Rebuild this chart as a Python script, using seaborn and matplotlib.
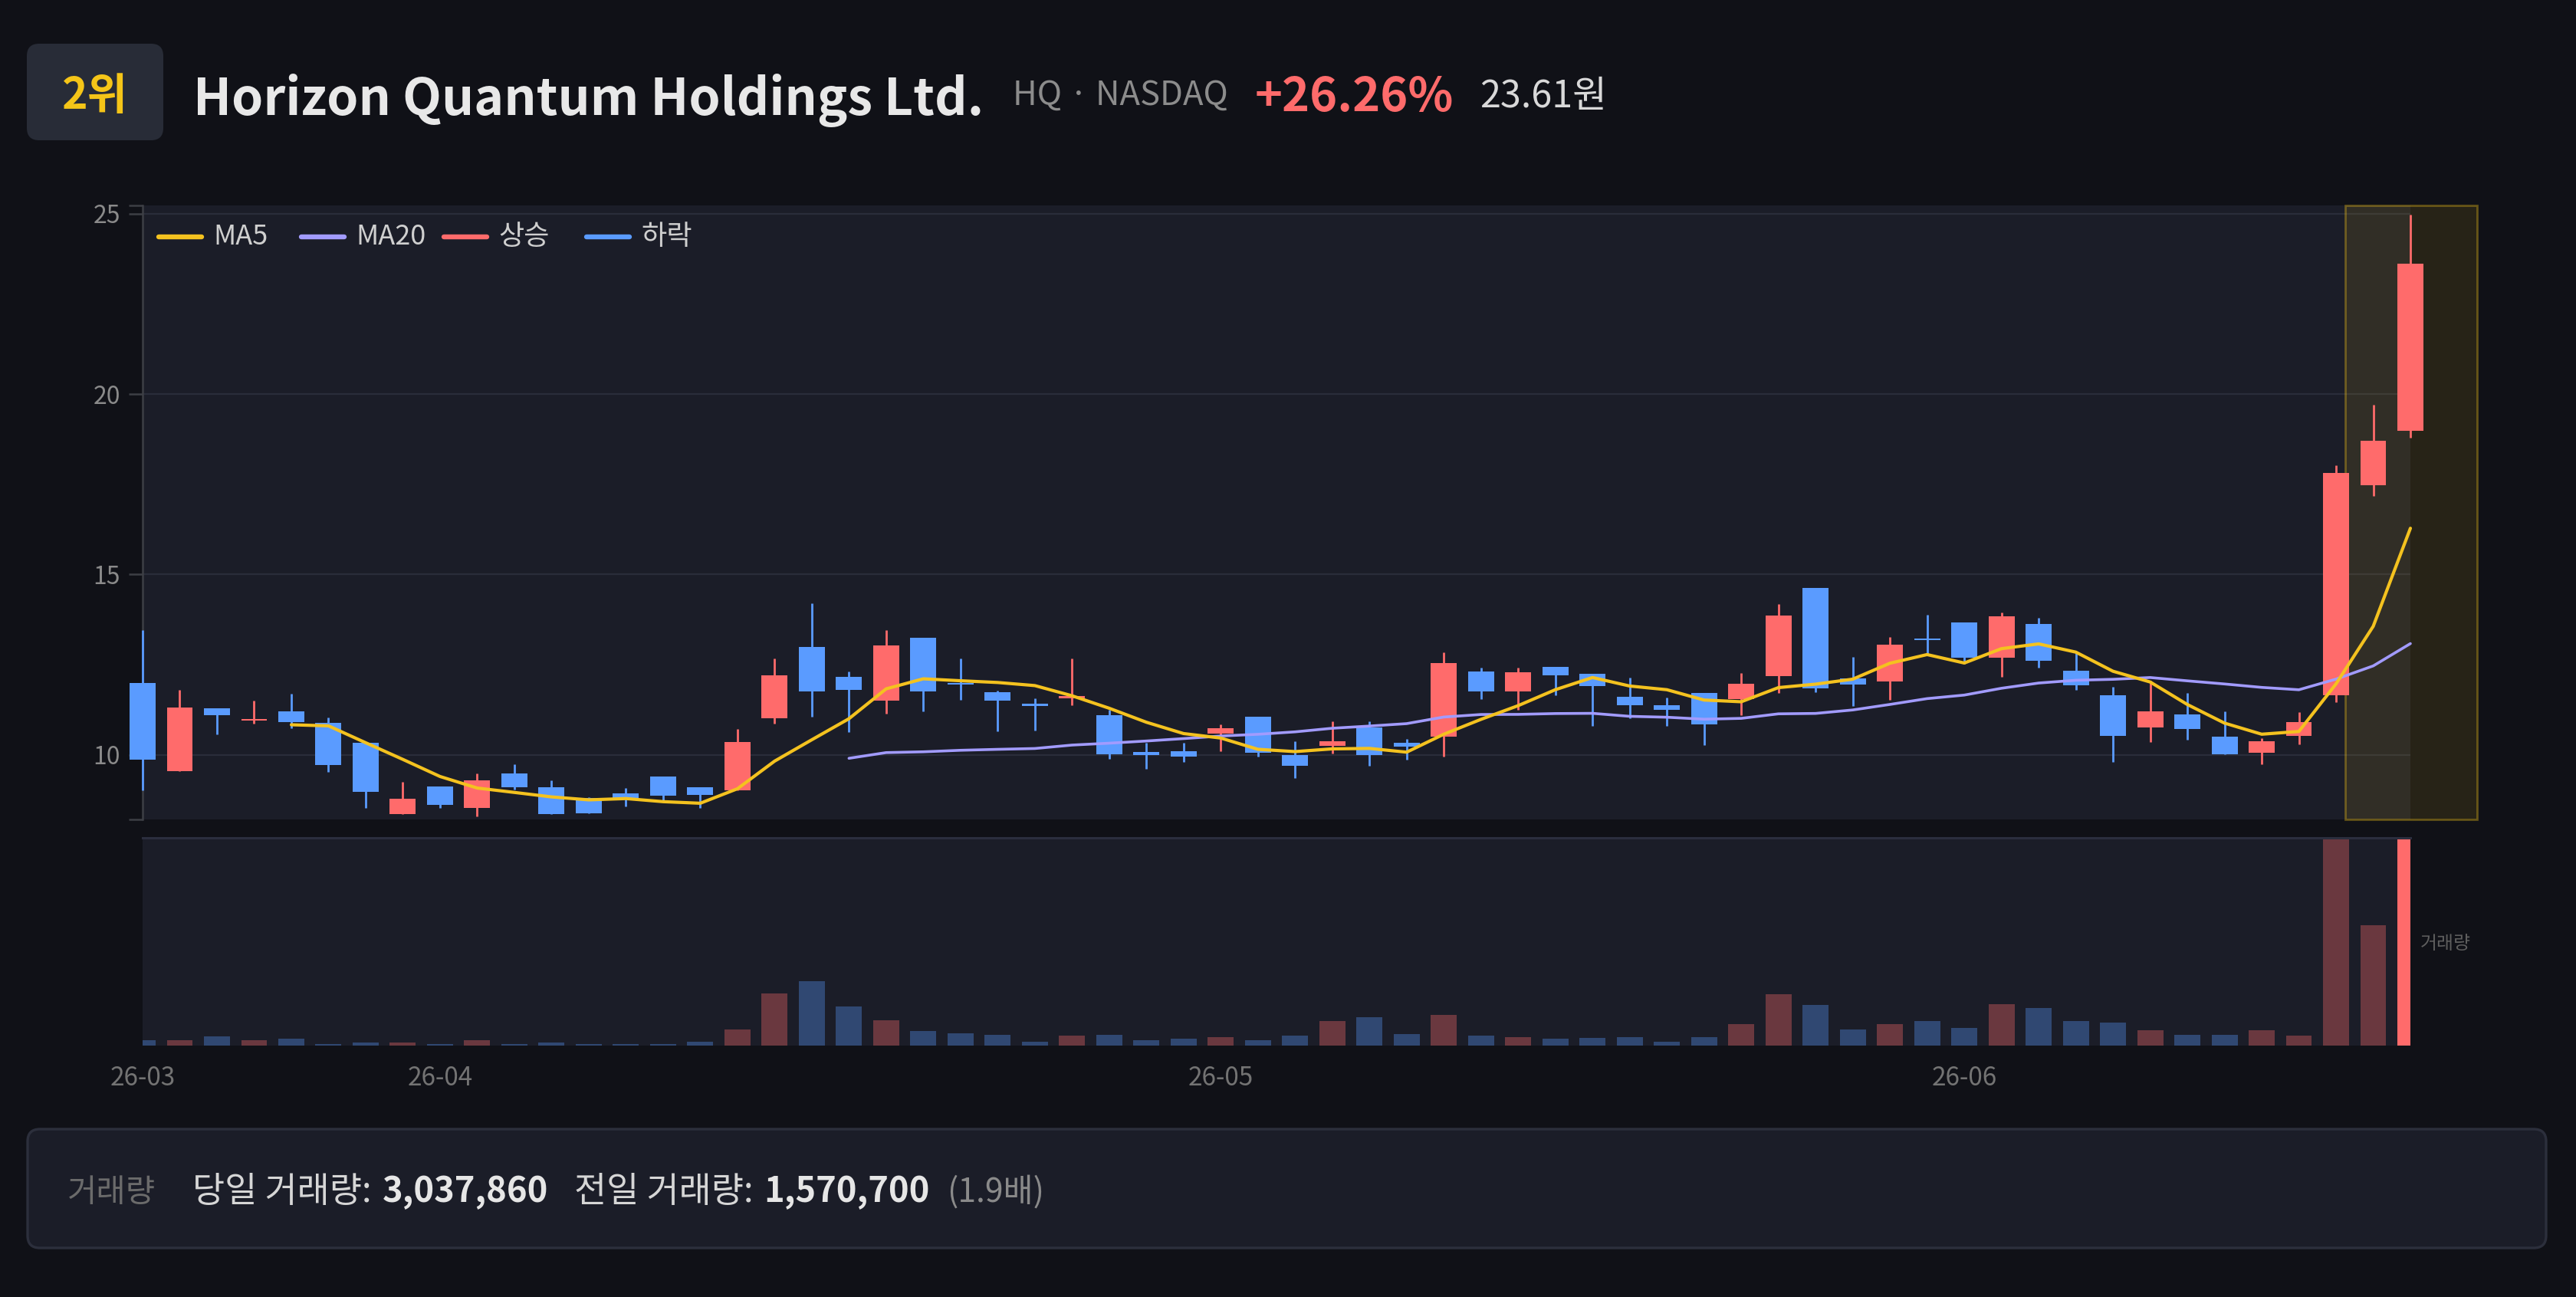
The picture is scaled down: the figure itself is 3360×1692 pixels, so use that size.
import numpy as np
import pandas as pd
import matplotlib
matplotlib.use('Agg')
import matplotlib.pyplot as plt
import seaborn as sns
from matplotlib.lines import Line2D
from matplotlib.patches import FancyBboxPatch
from matplotlib.transforms import IdentityTransform

# ---------------- data ----------------
start_date = '2026-03-20'
market_holidays = ['2026-04-03', '2026-05-25']

opens = [11.98, 9.55, 11.29, 10.94, 11.20, 10.89, 10.33, 8.35, 9.13, 8.52,
         9.49, 9.09, 8.80, 8.92, 9.40, 9.11, 9.02, 11.02, 12.98, 12.15,
         11.51, 13.25, 11.99, 11.73, 11.40, 11.57, 11.09, 10.07, 10.09, 10.58,
         11.06, 9.99, 10.24, 10.76, 10.33, 10.51, 12.30, 11.76, 12.43, 12.24,
         11.60, 11.38, 11.72, 11.55, 12.18, 14.62, 12.11, 12.04, 13.21, 13.66,
         12.69, 13.63, 12.33, 11.65, 10.76, 11.12, 10.50, 10.05, 10.52, 11.64,
         17.48, 18.99]
highs = [13.46, 11.80, 11.29, 11.51, 11.69, 11.03, 10.33, 9.25, 9.13, 9.49,
         9.74, 9.30, 8.82, 9.08, 9.40, 9.11, 10.71, 12.67, 14.20, 12.31,
         13.46, 13.25, 12.67, 11.78, 11.57, 12.67, 11.24, 10.34, 10.34, 10.85,
         11.06, 10.37, 10.93, 10.93, 10.43, 12.83, 12.42, 12.42, 12.43, 12.24,
         12.13, 11.58, 11.72, 12.27, 14.18, 14.62, 12.72, 13.27, 13.88, 13.66,
         13.94, 13.80, 12.81, 11.89, 12.06, 11.72, 11.21, 10.46, 11.18, 18.03,
         19.70, 24.98]
lows = [9.02, 9.55, 10.56, 10.87, 10.74, 9.52, 8.52, 8.35, 8.52, 8.29,
        9.04, 8.35, 8.38, 8.56, 8.74, 8.52, 9.02, 10.87, 11.06, 10.64,
        11.15, 11.20, 11.53, 10.66, 10.67, 11.37, 9.89, 9.62, 9.81, 10.09,
        9.94, 9.36, 10.04, 9.70, 9.87, 9.94, 11.55, 11.25, 11.66, 10.80,
        11.02, 10.80, 10.26, 11.10, 11.71, 11.74, 11.35, 11.52, 12.79, 12.53,
        12.17, 12.42, 11.79, 9.81, 10.36, 10.41, 10.02, 9.73, 10.28, 11.45,
        17.17, 18.80]
closes = [9.87, 11.31, 11.10, 10.98, 10.90, 9.72, 8.97, 8.79, 8.61, 9.30,
          9.11, 8.35, 8.38, 8.79, 8.87, 8.89, 10.36, 12.21, 11.75, 11.79,
          13.03, 11.75, 11.94, 11.51, 11.36, 11.62, 10.02, 10.00, 9.94, 10.74,
          10.06, 9.70, 10.38, 10.00, 10.22, 12.55, 11.76, 12.28, 12.21, 11.91,
          11.37, 11.25, 10.85, 11.97, 13.87, 11.85, 11.94, 13.06, 13.17, 12.70,
          13.84, 12.60, 11.92, 10.52, 11.21, 10.72, 10.02, 10.38, 10.90, 17.81,
          18.70, 23.61]
volumes = [74000, 74000, 124000, 74000, 95000, 25000, 37000, 45000, 21000, 66000,
           25000, 45000, 25000, 25000, 25000, 54000, 210000, 680000, 841000, 507000,
           334000, 194000, 157000, 140000, 49000, 132000, 144000, 74000, 87000, 115000,
           74000, 132000, 317000, 367000, 148000, 396000, 128000, 107000, 91000, 99000,
           107000, 54000, 111000, 276000, 668000, 528000, 210000, 276000, 317000, 235000,
           536000, 487000, 317000, 301000, 198000, 144000, 144000, 202000, 132000, 2950000,
           1570700, 3037860]

rank_label = '2위'
company_name = 'Horizon Quantum Holdings Ltd.'
ticker_label = 'HQ · NASDAQ'
change_label = '+26.26%'
price_label = '23.61원'
legend_labels = ['MA5', 'MA20', '상승', '하락']
volume_axis_label = '거래량'
footer_title = '거래량'
today_label = '당일 거래량:'
today_value = '3,037,860'
prev_label = '전일 거래량:'
prev_value = '1,570,700'
ratio_label = '(1.9배)'

# ---------------- style ----------------
W, H, DPI = 3360, 1692, 200
BG = '#101117'
PANEL = '#1b1d28'
GRID = '#2a2d3a'
UP = '#ff6b6b'
DOWN = '#5a9bff'
MA5_C = '#f4c21f'
MA20_C = '#a29bfe'
HILITE = '#f5c518'

sns.set_theme(style='dark')
plt.rcParams['font.family'] = ['Noto Sans CJK KR', 'DejaVu Sans']
plt.rcParams['axes.unicode_minus'] = False

df = pd.DataFrame({'open': opens, 'high': highs, 'low': lows,
                   'close': closes, 'volume': volumes})
df['date'] = pd.bdate_range(start_date, periods=len(df), freq='C',
                            holidays=market_holidays)
df['x'] = np.arange(len(df))
df['up'] = df['close'] >= df['open']
df['ma5'] = df['close'].rolling(5).mean()
df['ma20'] = df['close'].rolling(20).mean()
n = len(df)

fig = plt.figure(figsize=(W / DPI, H / DPI), dpi=DPI, facecolor=BG)
px = IdentityTransform()


def px_rect(x0, y0, x1, y1):
    # figure-fraction rect from a pixel box (top-left origin)
    return [x0 / W, 1 - y1 / H, (x1 - x0) / W, (y1 - y0) / H]


ax = fig.add_axes(px_rect(186, 268, 3144, 1069))
axv = fig.add_axes(px_rect(186, 1093, 3144, 1364))
for a in (ax, axv):
    a.set_facecolor(PANEL)
    a.grid(False)
    for s in a.spines.values():
        s.set_visible(False)

# ---- price panel ----
body_w = 0.7
colors = np.where(df['up'], UP, DOWN)
ax.vlines(df['x'], df['low'], df['high'], colors=colors, linewidth=1.0,
          zorder=3, clip_on=False)
body_lo = np.minimum(df['open'], df['close'])
body_h = np.maximum((df['close'] - df['open']).abs(), 0.05)
ax.bar(df['x'], body_h, bottom=body_lo, width=body_w, color=colors,
       linewidth=0, zorder=3.5, clip_on=False)

sns.lineplot(data=df, x='x', y='ma5', ax=ax, color=MA5_C, linewidth=1.5,
             zorder=5, clip_on=False)
sns.lineplot(data=df, x='x', y='ma20', ax=ax, color=MA20_C, linewidth=1.3,
             zorder=4.5, clip_on=False)

lo = df['low'].min() * 0.99
hi = df['high'].max() * 1.01
ax.set_xlim(0, n - 1)
ax.set_ylim(lo, hi)
ax.set_yticks([10, 15, 20, 25])
ax.set_yticks([lo, hi], minor=True)
ax.yaxis.grid(True, which='major', color=GRID, linewidth=0.8)
ax.set_axisbelow(True)
ax.spines['left'].set_visible(True)
ax.spines['left'].set_color('#3d3f45')
ax.spines['left'].set_linewidth(0.9)
ax.tick_params(axis='y', which='both', left=True, length=6.5, width=0.9,
               color='#3d3f45', labelcolor='#8a8a8a', labelsize=11.5, pad=4)
ax.tick_params(axis='x', bottom=False, labelbottom=False)
ax.set_xlabel('')
ax.set_ylabel('')

# highlight of the last sessions
ax.axvspan(n - 2.75, n + 0.8, ymin=0, ymax=1,
           facecolor=matplotlib.colors.to_rgba(HILITE, 0.10),
           edgecolor=matplotlib.colors.to_rgba(HILITE, 0.35),
           linewidth=1.0, zorder=1, clip_on=False)

# legend: fixed-pitch items like the source widget
for i, (lab, c) in enumerate(zip(legend_labels, (MA5_C, MA20_C, UP, DOWN))):
    x0 = 207 + i * 186
    fig.add_artist(Line2D([x0, x0 + 56], [H - 309, H - 309], transform=px,
                          color=c, linewidth=2.3, solid_capstyle='round'))
    fig.text((x0 + 71) / W, 1 - 309 / H, lab, ha='left', va='center',
             fontsize=13, color='#cfcfcf')

# ---- volume panel ----
vol_colors = [matplotlib.colors.to_rgba(UP if u else DOWN, 0.35) for u in df['up']]
vol_colors[-1] = matplotlib.colors.to_rgba(UP, 1.0)
axv.bar(df['x'], df['volume'], width=body_w, color=vol_colors, linewidth=0)
axv.set_xlim(0, n - 1)
axv.set_ylim(0, 2_712_000)
axv.spines['top'].set_visible(True)
axv.spines['top'].set_color('#2b2e3e')
axv.spines['top'].set_linewidth(1.1)
axv.set_yticks([])
month_start = df.index[df['date'].dt.month != df['date'].dt.month.shift()]
axv.set_xticks(df.loc[month_start, 'x'])
axv.set_xticklabels(df.loc[month_start, 'date'].dt.strftime('%y-%m'))
axv.tick_params(axis='x', length=0, labelcolor='#737373', labelsize=12, pad=9)
axv.set_xlabel('')
axv.set_ylabel('')
axv.text(1 + 13 / 2958, 0.49, volume_axis_label, transform=axv.transAxes,
         ha='left', va='center', fontsize=8.6, color='#5e5e5e')

# ---- header & footer ----
fig.patches.append(FancyBboxPatch((35, H - 183), 178, 126,
                                  boxstyle='round,pad=0,rounding_size=16',
                                  facecolor='#282c37', edgecolor='none',
                                  transform=px, figure=fig))
fig.patches.append(FancyBboxPatch((36, H - 1628), 3285, 155,
                                  boxstyle='round,pad=0,rounding_size=16',
                                  facecolor=PANEL, edgecolor='#2c2f3c',
                                  linewidth=1.2, transform=px, figure=fig))

fig.text(124 / W, 1 - 143 / H, rank_label, ha='center', va='baseline',
         fontsize=20.5, fontweight='bold', color='#f5c518')

renderer = fig.canvas.get_renderer()


def chain(x, parts):
    for text, y, size, color, weight, gap in parts:
        t = fig.text(x / W, 1 - y / H, text, ha='left', va='baseline',
                     fontsize=size, color=color, fontweight=weight)
        bb = t.get_window_extent(renderer)
        x = bb.x1 + gap


chain(252, [
    (company_name, 150, 23.8, '#e8e8e8', 'bold', 38),
    (ticker_label, 137, 15.7, '#8c8c8c', 'normal', 35),
    (change_label, 145, 22, UP, 'bold', 34),
    (price_label, 140, 17.5, '#d9d9d9', 'normal', 0),
])

chain(88, [
    (footer_title, 1568, 15, '#6b6b6b', 'normal', 48),
    (today_label, 1568, 16.5, '#d6d6d6', 'normal', 14),
    (today_value, 1568, 16.3, '#e6e6e6', 'bold', 34),
    (prev_label, 1568, 16.5, '#d6d6d6', 'normal', 14),
    (prev_value, 1568, 16.3, '#e6e6e6', 'bold', 22),
    (ratio_label, 1568, 15.3, '#8a8a8a', 'normal', 0),
])

fig.savefig('out.png', dpi=DPI, facecolor=BG)
